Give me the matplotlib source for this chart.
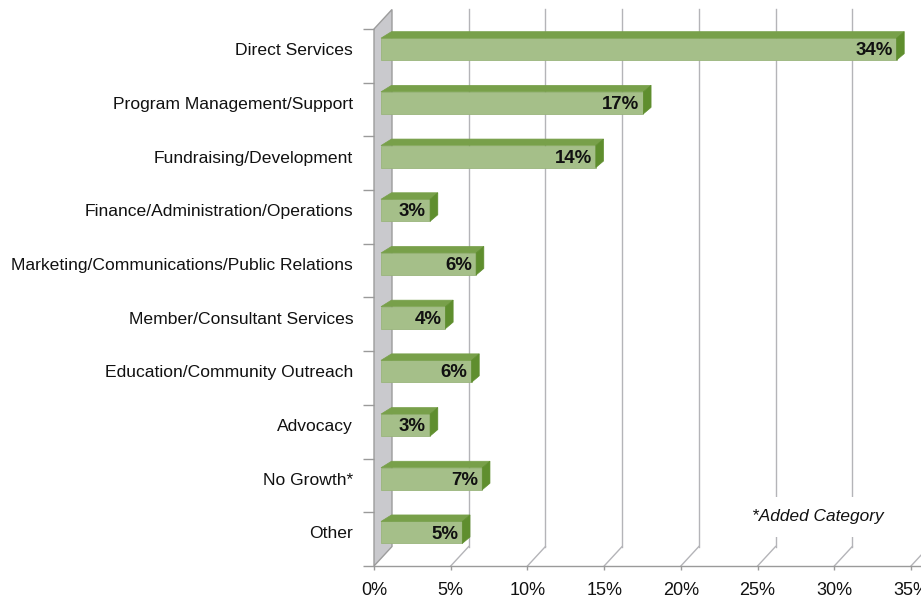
import matplotlib
matplotlib.use('Agg')
import matplotlib.pyplot as plt
from matplotlib.patches import Polygon
from matplotlib import font_manager as fm

# ---------------- data ----------------
categories = ['Direct Services', 'Program Management/Support', 'Fundraising/Development',
              'Finance/Administration/Operations', 'Marketing/Communications/Public Relations',
              'Member/Consultant Services', 'Education/Community Outreach', 'Advocacy',
              'No Growth*', 'Other']
values = [33.6, 17.1, 14.0, 3.2, 6.2, 4.2, 5.9, 3.2, 6.6, 5.3]
value_labels = ['34%', '17%', '14%', '3%', '6%', '4%', '6%', '3%', '7%', '5%']
xticks = [0, 5, 10, 15, 20, 25, 30, 35]
xtick_labels = ['0%', '5%', '10%', '15%', '20%', '25%', '30%', '35%']
note = '*Added Category'

# ---------------- fonts ----------------
names = {f.name for f in fm.fontManager.ttflist}
regular = 'Liberation Sans' if 'Liberation Sans' in names else 'DejaVu Sans'
plt.rcParams['font.family'] = [regular, 'DejaVu Sans']

# ---------------- geometry (pixels) ----------------
W, H = 921, 601
x0_px, x35_px = 374, 911
top_px, bot_px = 29, 566
ppx = (x35_px - x0_px) / 35.0          # px per percent
ppy = (bot_px - top_px) / 10.0         # px per category
n = len(categories)

def off(dx, dy_up):
    """pixel offset -> data offset (y axis inverted)"""
    return dx / ppx, -dy_up / ppy

fig = plt.figure(figsize=(W / 100, H / 100), dpi=100)
ax = fig.add_axes([x0_px / W, (H - bot_px) / H, (W - x0_px) / W, (bot_px - top_px) / H])
xmax = (W - x0_px) / ppx
ax.set_xlim(0, xmax)
ax.set_ylim(n - 0.5, -0.5)

grid_c = '#b4b4b8'
axis_c = '#9a9a9a'

# depth of the chart box
ddx, ddy = off(18, 19.5)
y_top, y_bot = -0.5, n - 0.5

# left wall
wall = Polygon([(0, y_bot), (0, y_top), (ddx, y_top + ddy), (ddx, y_bot + ddy)],
               closed=True, facecolor='#c9c9cd', edgecolor='#9c9c9c', lw=1.0,
               zorder=1, clip_on=False)
ax.add_patch(wall)

# back gridlines and floor lines
for t in xticks[1:]:
    ax.plot([t + ddx, t + ddx], [y_top + ddy, y_bot + ddy], color=grid_c, lw=1.0,
            zorder=1, clip_on=False)
    ax.plot([t, t + ddx], [y_bot, y_bot + ddy], color=grid_c, lw=1.0, zorder=1, clip_on=False)

# bars
bx0, bdy = off(7, 6.7)
h = 22 / ppy
ypos = [i + bdy for i in range(n)]
ax.barh(ypos, values, left=bx0, height=h, color='#a5bf89', edgecolor='#9ab57c',
        lw=0.6, zorder=3)
slx, sly = off(10.5, 6.5)
srx, sry = off(7.7, 6.5)
for y, v in zip(ypos, values):
    yt, yb = y - h / 2, y + h / 2
    xr = bx0 + v
    top = Polygon([(bx0, yt), (xr, yt), (xr + srx, yt + sry), (bx0 + slx, yt + sly)],
                  closed=True, facecolor='#78a04a', edgecolor='#78a04a', lw=0.5, zorder=3)
    side = Polygon([(xr, yt), (xr, yb), (xr + srx, yb + sry), (xr + srx, yt + sry)],
                   closed=True, facecolor='#5f8e2e', edgecolor='#5f8e2e', lw=0.5, zorder=3)
    ax.add_patch(top)
    ax.add_patch(side)

lx, _ = off(4, 0)
for y, v, lab in zip(ypos, values, value_labels):
    ax.text(bx0 + v - lx, y + 0.03, lab, ha='right', va='center', fontsize=13.4,
            fontweight='bold', color='#111111', zorder=5)

# note
ax.text(818 / ppx - x0_px / ppx, (517 - top_px) / ppy - 0.5, note, ha='center', va='center',
        fontsize=12.4, fontstyle='italic', color='#111111', zorder=4,
        bbox=dict(boxstyle='square,pad=0.75', facecolor='white', edgecolor='none'))

# axes styling
for s in ['top', 'right', 'left']:
    ax.spines[s].set_visible(False)
ax.spines['bottom'].set_color(axis_c)
ax.spines['bottom'].set_linewidth(1.0)
ax.spines['bottom'].set_zorder(2)

ax.set_xticks(xticks)
ax.set_xticklabels(xtick_labels, fontsize=13, color='#111111')
ax.tick_params(axis='x', direction='out', length=3, width=1, color=axis_c, pad=8.5)

ax.set_yticks(ypos)
ax.set_yticklabels(categories, fontsize=12.6, color='#111111')
ax.tick_params(axis='y', which='major', length=0, pad=15)
ax.set_yticks([i - 0.5 for i in range(n + 1)], minor=True)
ax.tick_params(axis='y', which='minor', direction='out', length=8, width=1, color=axis_c)
ax.set_facecolor('none')

fig.savefig('out.png', dpi=100)
